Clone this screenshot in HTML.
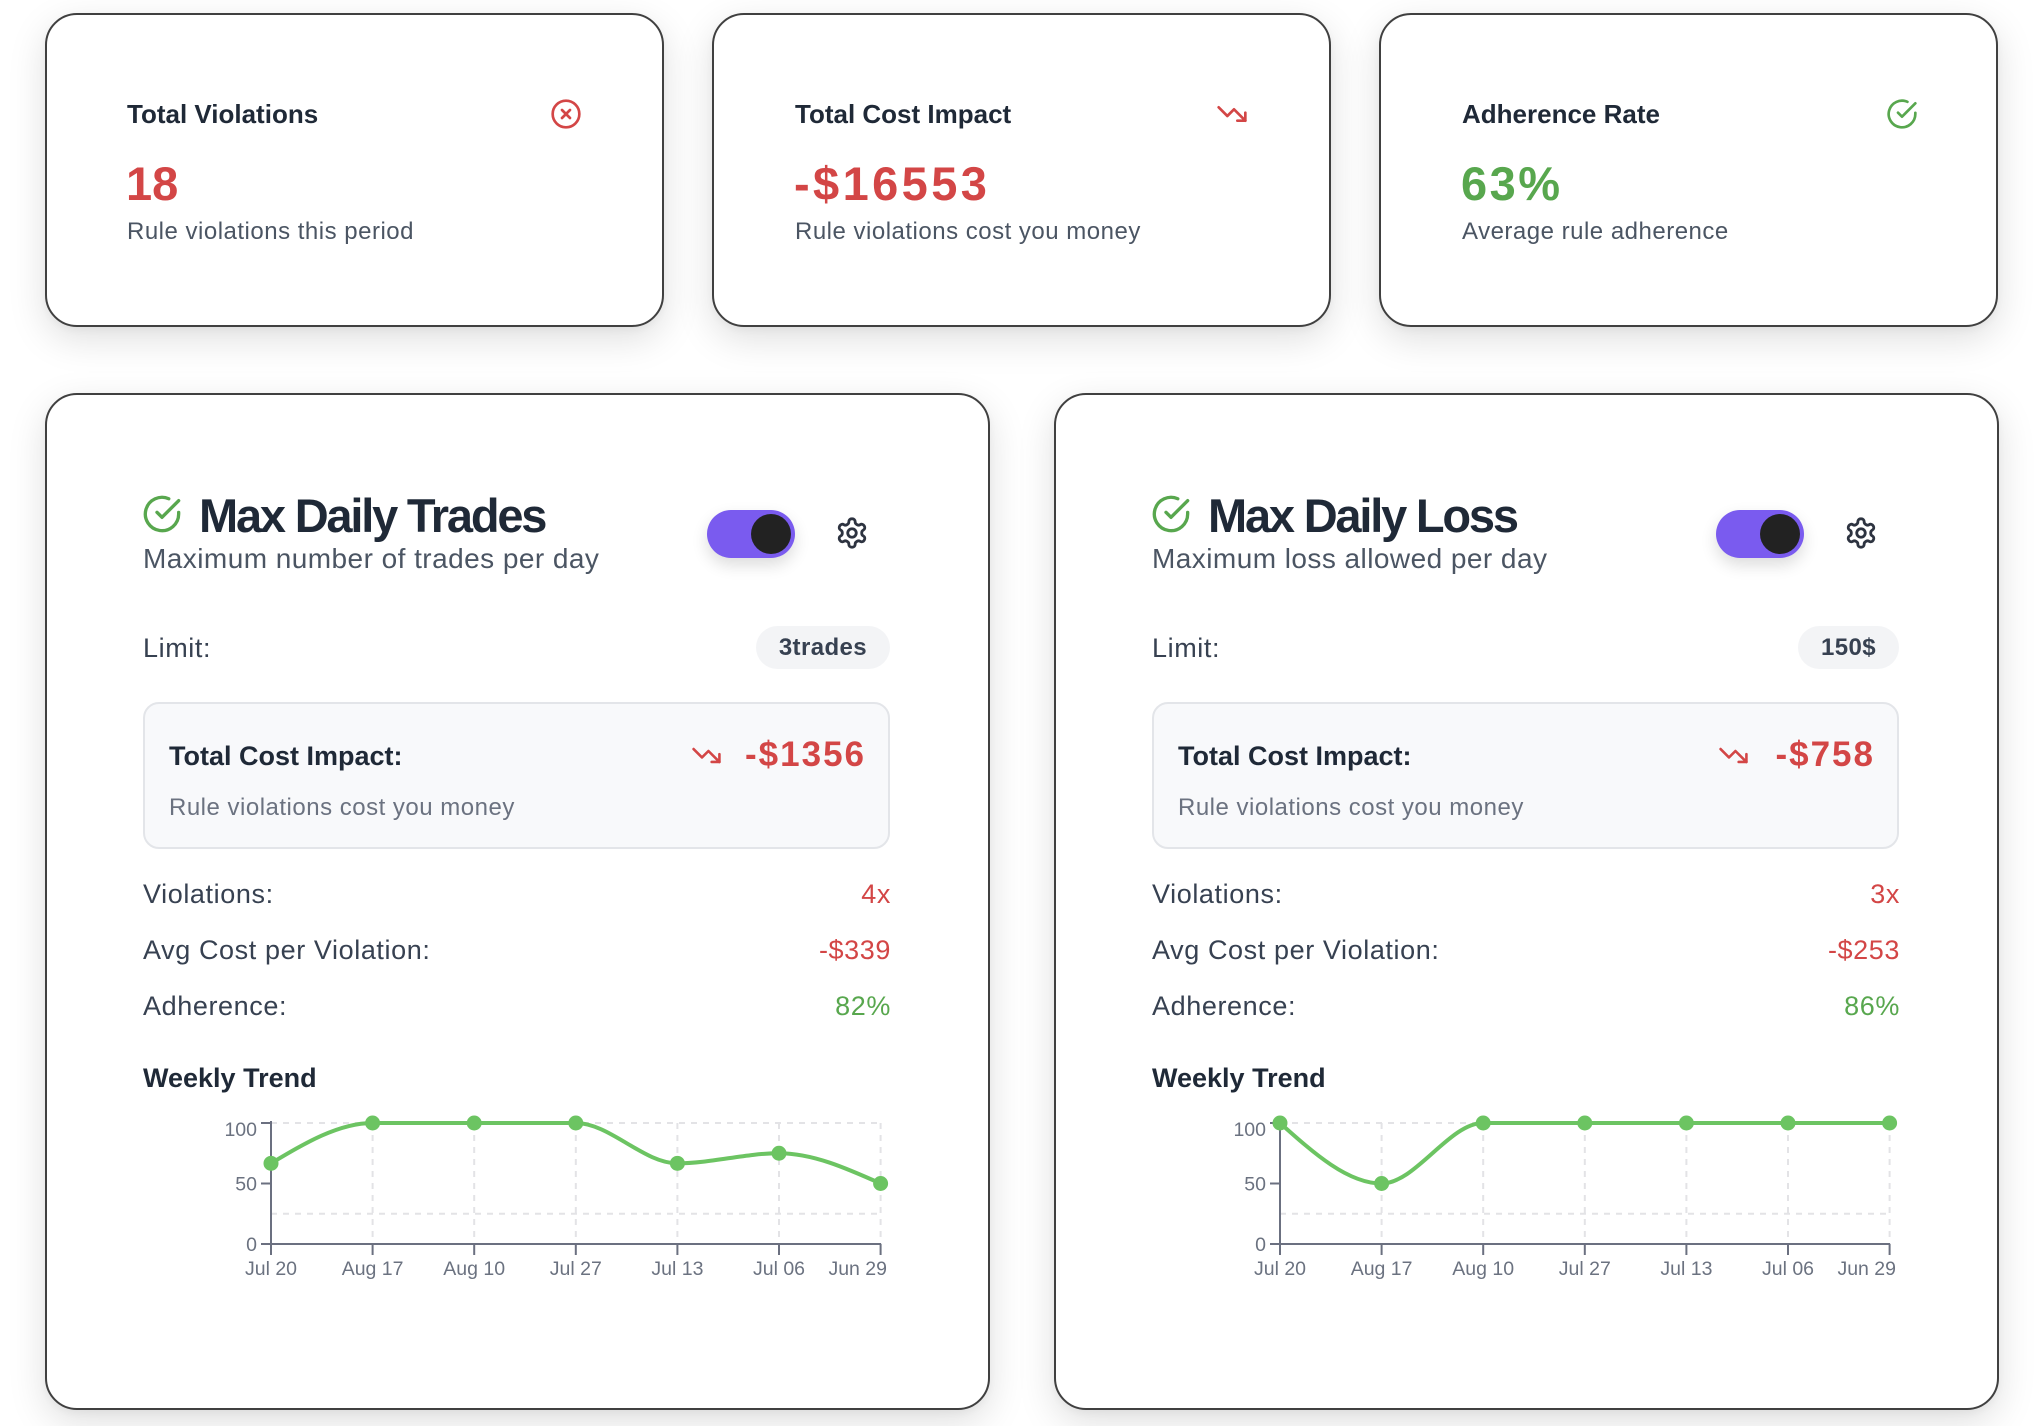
<!DOCTYPE html>
<html><head><meta charset="utf-8">
<style>
html,body{margin:0;padding:0;}
body{width:2034px;height:1426px;overflow:hidden;background:#fff;position:relative;font-family:"Liberation Sans",Arial,sans-serif;}
.card{position:absolute;background:#fff;border:2px solid #404040;border-radius:32px;box-sizing:border-box;box-shadow:0 12px 38px rgba(0,0,0,0.13),0 3px 8px rgba(0,0,0,0.04);}
.t{position:absolute;line-height:1;white-space:nowrap;}
.ttl{font-size:26px;font-weight:bold;color:#1f2937;}
.big{font-size:47px;font-weight:bold;}
.sub{font-size:24px;letter-spacing:0.5px;color:#4b5563;}
.h1{font-size:47px;font-weight:bold;color:#1f2937;letter-spacing:-2.2px;}
.h2{font-size:28px;letter-spacing:0.45px;color:#4b5563;}
.row{font-size:27px;letter-spacing:0.6px;color:#374151;}
.t.red{color:#d34646;}
.t.green{color:#58a74e;}
.pill{position:absolute;height:43px;line-height:43px;padding:0 23px;border-radius:22px;background:#f3f4f6;color:#374151;font-size:24px;font-weight:bold;letter-spacing:0.4px;white-space:nowrap;}
.box{position:absolute;background:#f8f9fb;border:2px solid #e3e5e9;border-radius:16px;box-sizing:border-box;}
.bt{font-size:27px;font-weight:bold;color:#1f2937;}
.bv{font-size:35px;font-weight:bold;letter-spacing:2px;color:#d34646;}
.bs{font-size:24px;letter-spacing:0.5px;color:#6b7280;}
.wt{font-size:27px;font-weight:bold;color:#1f2937;}
.tog{position:absolute;width:88px;height:48px;border-radius:24px;background:#7a5bef;box-shadow:0 7px 16px rgba(0,0,0,0.14);}
.knob{position:absolute;width:40px;height:40px;border-radius:20px;background:#222;top:4px;left:44px;}
svg.ic{position:absolute;fill:none;stroke-linecap:round;stroke-linejoin:round;}
</style></head><body>

<!-- top cards -->
<div class="card" style="left:45px;top:13px;width:619px;height:314px;"></div>
<div class="card" style="left:712px;top:13px;width:619px;height:314px;"></div>
<div class="card" style="left:1379px;top:13px;width:619px;height:314px;"></div>

<div class="t ttl" style="left:127px;top:101px;">Total Violations</div>
<div class="t big red" style="left:126px;top:160px;">18</div>
<div class="t sub" style="left:127px;top:220px;">Rule violations this period</div>
<svg class="ic" style="left:550px;top:98px;" width="32" height="32" viewBox="0 0 24 24" stroke="#d34646" stroke-width="2"><circle cx="12" cy="12" r="10"/><path d="m15 9-6 6"/><path d="m9 9 6 6"/></svg>

<div class="t ttl" style="left:795px;top:101px;">Total Cost Impact</div>
<div class="t big red" style="left:794px;top:160px;letter-spacing:3.4px;">-$16553</div>
<div class="t sub" style="left:795px;top:220px;">Rule violations cost you money</div>
<svg class="ic" style="left:1216px;top:98px;" width="32" height="32" viewBox="0 0 24 24" stroke="#d34646" stroke-width="2"><polyline points="22 17 13.5 8.5 8.5 13.5 2 7"/><polyline points="16 17 22 17 22 11"/></svg>

<div class="t ttl" style="left:1462px;top:101px;">Adherence Rate</div>
<div class="t big green" style="left:1461px;top:160px;letter-spacing:2.5px;">63%</div>
<div class="t sub" style="left:1462px;top:220px;">Average rule adherence</div>
<svg class="ic" style="left:1886px;top:98px;" width="32" height="32" viewBox="0 0 24 24" stroke="#58a74e" stroke-width="2"><path d="M22 11.08V12a10 10 0 1 1-5.93-9.14"/><polyline points="22 4 12 14.01 9 11.01"/></svg>

<!-- bottom cards -->
<div class="card" style="left:45px;top:393px;width:945px;height:1017px;"></div>
<div class="card" style="left:1054px;top:393px;width:945px;height:1017px;"></div>

<!-- LEFT CARD -->
<svg class="ic" style="left:142px;top:494px;" width="40" height="40" viewBox="0 0 24 24" stroke="#58a74e" stroke-width="2"><path d="M22 11.08V12a10 10 0 1 1-5.93-9.14"/><polyline points="22 4 12 14.01 9 11.01"/></svg>
<div class="t h1" style="left:199px;top:492px;">Max Daily Trades</div>
<div class="t h2" style="left:143px;top:545px;">Maximum number of trades per day</div>
<div class="tog" style="left:707px;top:510px;"><div class="knob"></div></div>
<svg class="ic" style="left:835px;top:516px;" width="34" height="34" viewBox="0 0 24 24" stroke="#2d3340" stroke-width="2"><path d="M12.22 2h-.44a2 2 0 0 0-2 2v.18a2 2 0 0 1-1 1.73l-.43.25a2 2 0 0 1-2 0l-.15-.08a2 2 0 0 0-2.73.73l-.22.38a2 2 0 0 0 .73 2.73l.15.1a2 2 0 0 1 1 1.72v.51a2 2 0 0 1-1 1.74l-.15.09a2 2 0 0 0-.73 2.73l.22.38a2 2 0 0 0 2.73.73l.15-.08a2 2 0 0 1 2 0l.43.25a2 2 0 0 1 1 1.73V20a2 2 0 0 0 2 2h.44a2 2 0 0 0 2-2v-.18a2 2 0 0 1 1-1.73l.43-.25a2 2 0 0 1 2 0l.15.08a2 2 0 0 0 2.73-.73l.22-.39a2 2 0 0 0-.73-2.73l-.15-.08a2 2 0 0 1-1-1.74v-.5a2 2 0 0 1 1-1.74l.15-.09a2 2 0 0 0 .73-2.73l-.22-.38a2 2 0 0 0-2.73-.73l-.15.08a2 2 0 0 1-2 0l-.43-.25a2 2 0 0 1-1-1.73V4a2 2 0 0 0-2-2z"/><circle cx="12" cy="12" r="3"/></svg>

<div class="t row" style="left:143px;top:635px;">Limit:</div>
<div class="pill" style="right:1144px;top:626px;">3trades</div>

<div class="box" style="left:143px;top:702px;width:747px;height:147px;"></div>
<div class="t bt" style="left:169px;top:743px;">Total Cost Impact:</div>
<svg class="ic" style="left:691px;top:740px;" width="31" height="31" viewBox="0 0 24 24" stroke="#d34646" stroke-width="2"><polyline points="22 17 13.5 8.5 8.5 13.5 2 7"/><polyline points="16 17 22 17 22 11"/></svg>
<div class="t bv" style="right:1168px;top:737px;">-$1356</div>
<div class="t bs" style="left:169px;top:796px;">Rule violations cost you money</div>

<div class="t row" style="left:143px;top:881px;">Violations:</div>
<div class="t row red" style="right:1143px;top:881px;">4x</div>
<div class="t row" style="left:143px;top:937px;">Avg Cost per Violation:</div>
<div class="t row red" style="right:1143px;top:937px;">-$339</div>
<div class="t row" style="left:143px;top:993px;">Adherence:</div>
<div class="t row green" style="right:1143px;top:993px;">82%</div>
<div class="t wt" style="left:143px;top:1065px;">Weekly Trend</div>

<!-- RIGHT CARD -->
<svg class="ic" style="left:1151px;top:494px;" width="40" height="40" viewBox="0 0 24 24" stroke="#58a74e" stroke-width="2"><path d="M22 11.08V12a10 10 0 1 1-5.93-9.14"/><polyline points="22 4 12 14.01 9 11.01"/></svg>
<div class="t h1" style="left:1208px;top:492px;">Max Daily Loss</div>
<div class="t h2" style="left:1152px;top:545px;">Maximum loss allowed per day</div>
<div class="tog" style="left:1716px;top:510px;"><div class="knob"></div></div>
<svg class="ic" style="left:1844px;top:516px;" width="34" height="34" viewBox="0 0 24 24" stroke="#2d3340" stroke-width="2"><path d="M12.22 2h-.44a2 2 0 0 0-2 2v.18a2 2 0 0 1-1 1.73l-.43.25a2 2 0 0 1-2 0l-.15-.08a2 2 0 0 0-2.73.73l-.22.38a2 2 0 0 0 .73 2.73l.15.1a2 2 0 0 1 1 1.72v.51a2 2 0 0 1-1 1.74l-.15.09a2 2 0 0 0-.73 2.73l.22.38a2 2 0 0 0 2.73.73l.15-.08a2 2 0 0 1 2 0l.43.25a2 2 0 0 1 1 1.73V20a2 2 0 0 0 2 2h.44a2 2 0 0 0 2-2v-.18a2 2 0 0 1 1-1.73l.43-.25a2 2 0 0 1 2 0l.15.08a2 2 0 0 0 2.73-.73l.22-.39a2 2 0 0 0-.73-2.73l-.15-.08a2 2 0 0 1-1-1.74v-.5a2 2 0 0 1 1-1.74l.15-.09a2 2 0 0 0 .73-2.73l-.22-.38a2 2 0 0 0-2.73-.73l-.15.08a2 2 0 0 1-2 0l-.43-.25a2 2 0 0 1-1-1.73V4a2 2 0 0 0-2-2z"/><circle cx="12" cy="12" r="3"/></svg>

<div class="t row" style="left:1152px;top:635px;">Limit:</div>
<div class="pill" style="right:135px;top:626px;">150$</div>

<div class="box" style="left:1152px;top:702px;width:747px;height:147px;"></div>
<div class="t bt" style="left:1178px;top:743px;">Total Cost Impact:</div>
<svg class="ic" style="left:1718px;top:740px;" width="31" height="31" viewBox="0 0 24 24" stroke="#d34646" stroke-width="2"><polyline points="22 17 13.5 8.5 8.5 13.5 2 7"/><polyline points="16 17 22 17 22 11"/></svg>
<div class="t bv" style="right:159px;top:737px;">-$758</div>
<div class="t bs" style="left:1178px;top:796px;">Rule violations cost you money</div>

<div class="t row" style="left:1152px;top:881px;">Violations:</div>
<div class="t row red" style="right:134px;top:881px;">3x</div>
<div class="t row" style="left:1152px;top:937px;">Avg Cost per Violation:</div>
<div class="t row red" style="right:134px;top:937px;">-$253</div>
<div class="t row" style="left:1152px;top:993px;">Adherence:</div>
<div class="t row green" style="right:134px;top:993px;">86%</div>
<div class="t wt" style="left:1152px;top:1065px;">Weekly Trend</div>

<!-- CHARTS -->
<svg style="position:absolute;left:0;top:0;" width="2034" height="1426" viewBox="0 0 2034 1426">
  <g id="chartL">
    <g stroke="#e3e3e6" stroke-width="2" stroke-dasharray="6 6" fill="none">
      <line x1="271" y1="1123" x2="880.6" y2="1123"/>
      <line x1="271" y1="1213.75" x2="880.6" y2="1213.75"/>
      <line x1="372.6" y1="1123" x2="372.6" y2="1244"/>
      <line x1="474.2" y1="1123" x2="474.2" y2="1244"/>
      <line x1="575.8" y1="1123" x2="575.8" y2="1244"/>
      <line x1="677.4" y1="1123" x2="677.4" y2="1244"/>
      <line x1="779" y1="1123" x2="779" y2="1244"/>
      <line x1="880.6" y1="1123" x2="880.6" y2="1244"/>
    </g>
    <g stroke="#6b7080" stroke-width="2" fill="none">
      <line x1="271" y1="1121" x2="271" y2="1244"/>
      <line x1="271" y1="1244" x2="881" y2="1244"/>
      <line x1="261" y1="1123" x2="271" y2="1123"/>
      <line x1="261" y1="1183.5" x2="271" y2="1183.5"/>
      <line x1="261" y1="1244" x2="271" y2="1244"/>
      <line x1="271" y1="1244" x2="271" y2="1255"/>
      <line x1="372.6" y1="1244" x2="372.6" y2="1255"/>
      <line x1="474.2" y1="1244" x2="474.2" y2="1255"/>
      <line x1="575.8" y1="1244" x2="575.8" y2="1255"/>
      <line x1="677.4" y1="1244" x2="677.4" y2="1255"/>
      <line x1="779" y1="1244" x2="779" y2="1255"/>
      <line x1="880.6" y1="1244" x2="880.6" y2="1255"/>
    </g>
    <g font-family="Liberation Sans, Arial, sans-serif" font-size="19.5" fill="#6b7280">
      <text x="257" y="1136" text-anchor="end">100</text>
      <text x="257" y="1190.5" text-anchor="end">50</text>
      <text x="257" y="1251" text-anchor="end">0</text>
      <text x="271" y="1275" text-anchor="middle">Jul 20</text>
      <text x="372.6" y="1275" text-anchor="middle">Aug 17</text>
      <text x="474.2" y="1275" text-anchor="middle">Aug 10</text>
      <text x="575.8" y="1275" text-anchor="middle">Jul 27</text>
      <text x="677.4" y="1275" text-anchor="middle">Jul 13</text>
      <text x="779" y="1275" text-anchor="middle">Jul 06</text>
      <text x="887" y="1275" text-anchor="end">Jun 29</text>
    </g>
    <path d="M271,1163.33 C304.87,1143.16 338.73,1123 372.6,1123 C406.47,1123 440.33,1123 474.2,1123 C508.07,1123 541.93,1123 575.8,1123 C609.67,1123 643.53,1163.33 677.4,1163.33 C711.27,1163.33 745.13,1153.25 779,1153.25 C812.87,1153.25 846.73,1168.38 880.6,1183.5" fill="none" stroke="#6cc462" stroke-width="4"/>
    <g fill="#6cc462">
      <circle cx="271" cy="1163.33" r="7.5"/>
      <circle cx="372.6" cy="1123" r="7.5"/>
      <circle cx="474.2" cy="1123" r="7.5"/>
      <circle cx="575.8" cy="1123" r="7.5"/>
      <circle cx="677.4" cy="1163.33" r="7.5"/>
      <circle cx="779" cy="1153.25" r="7.5"/>
      <circle cx="880.6" cy="1183.5" r="7.5"/>
    </g>
  </g>
  <g id="chartR">
    <g stroke="#e3e3e6" stroke-width="2" stroke-dasharray="6 6" fill="none">
      <line x1="1280" y1="1123" x2="1889.6" y2="1123"/>
      <line x1="1280" y1="1213.75" x2="1889.6" y2="1213.75"/>
      <line x1="1381.6" y1="1123" x2="1381.6" y2="1244"/>
      <line x1="1483.2" y1="1123" x2="1483.2" y2="1244"/>
      <line x1="1584.8" y1="1123" x2="1584.8" y2="1244"/>
      <line x1="1686.4" y1="1123" x2="1686.4" y2="1244"/>
      <line x1="1788" y1="1123" x2="1788" y2="1244"/>
      <line x1="1889.6" y1="1123" x2="1889.6" y2="1244"/>
    </g>
    <g stroke="#6b7080" stroke-width="2" fill="none">
      <line x1="1280" y1="1121" x2="1280" y2="1244"/>
      <line x1="1280" y1="1244" x2="1890" y2="1244"/>
      <line x1="1270" y1="1123" x2="1280" y2="1123"/>
      <line x1="1270" y1="1183.5" x2="1280" y2="1183.5"/>
      <line x1="1270" y1="1244" x2="1280" y2="1244"/>
      <line x1="1280" y1="1244" x2="1280" y2="1255"/>
      <line x1="1381.6" y1="1244" x2="1381.6" y2="1255"/>
      <line x1="1483.2" y1="1244" x2="1483.2" y2="1255"/>
      <line x1="1584.8" y1="1244" x2="1584.8" y2="1255"/>
      <line x1="1686.4" y1="1244" x2="1686.4" y2="1255"/>
      <line x1="1788" y1="1244" x2="1788" y2="1255"/>
      <line x1="1889.6" y1="1244" x2="1889.6" y2="1255"/>
    </g>
    <g font-family="Liberation Sans, Arial, sans-serif" font-size="19.5" fill="#6b7280">
      <text x="1266" y="1136" text-anchor="end">100</text>
      <text x="1266" y="1190.5" text-anchor="end">50</text>
      <text x="1266" y="1251" text-anchor="end">0</text>
      <text x="1280" y="1275" text-anchor="middle">Jul 20</text>
      <text x="1381.6" y="1275" text-anchor="middle">Aug 17</text>
      <text x="1483.2" y="1275" text-anchor="middle">Aug 10</text>
      <text x="1584.8" y="1275" text-anchor="middle">Jul 27</text>
      <text x="1686.4" y="1275" text-anchor="middle">Jul 13</text>
      <text x="1788" y="1275" text-anchor="middle">Jul 06</text>
      <text x="1896" y="1275" text-anchor="end">Jun 29</text>
    </g>
    <path d="M1280,1123 C1313.87,1153.24 1347.73,1183.5 1381.6,1183.5 C1415.47,1183.5 1449.33,1123 1483.2,1123 L1889.6,1123" fill="none" stroke="#6cc462" stroke-width="4"/>
    <g fill="#6cc462">
      <circle cx="1280" cy="1123" r="7.5"/>
      <circle cx="1381.6" cy="1183.5" r="7.5"/>
      <circle cx="1483.2" cy="1123" r="7.5"/>
      <circle cx="1584.8" cy="1123" r="7.5"/>
      <circle cx="1686.4" cy="1123" r="7.5"/>
      <circle cx="1788" cy="1123" r="7.5"/>
      <circle cx="1889.6" cy="1123" r="7.5"/>
    </g>
  </g>
</svg>
</body></html>
